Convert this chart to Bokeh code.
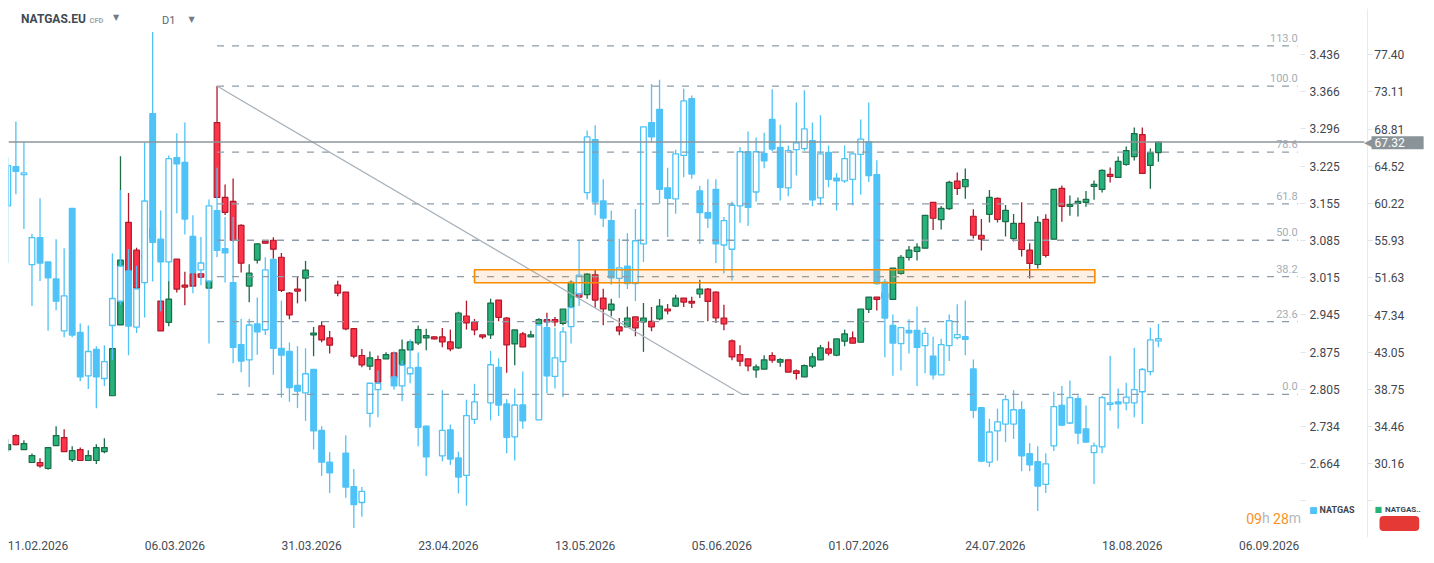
from bokeh.plotting import figure
from bokeh.models import ColumnDataSource, Range1d, LinearAxis, FixedTicker, Label
from bokeh.embed import file_html
from bokeh.resources import INLINE
from bokeh.core.properties import value

# ---------------- data ----------------
# NATGAS.EU (main instrument, right-most axis)
eu_open = [31.80, 33.42, 31.80, 30.31, 30.31, 29.62, 32.26, 33.19, 30.65, 31.80,
           30.54, 30.54, 31.57, 38.02, 46.20, 58.05, 54.83, 54.29, 57.36, 48.96,
           46.50, 53.79, 50.80, 52.11, 52.11, 50.46, 69.57, 60.93, 60.47, 57.71,
           50.69, 53.68, 55.87, 55.98, 54.02, 49.88, 50.34, 51.61, 45.04, 46.08,
           44.70, 50.80, 50.00, 45.77, 42.67, 41.44, 42.20, 42.28, 42.97, 41.63,
           43.32, 44.12, 44.70, 44.82, 44.82, 44.24, 43.55, 47.23, 46.54, 45.05,
           45.05, 49.07, 47.00, 44.01, 45.16, 44.82, 46.31, 46.81, 46.81, 46.39,
           48.27, 49.99, 49.69, 51.99, 49.30, 47.92, 45.97, 45.97, 47.12, 46.54,
           46.62, 46.89, 48.04, 48.38, 49.30, 48.92, 49.77, 50.34, 49.99, 47.00,
           44.35, 42.78, 42.28, 41.02, 41.09, 42.67, 41.90, 42.17, 40.90, 40.21,
           41.44, 42.17, 43.43, 42.70, 44.32, 44.70, 44.20, 48.00, 49.42, 49.30,
           49.15, 52.14, 53.99, 54.68, 55.06, 60.36, 58.36, 59.63, 62.81, 62.16,
           58.75, 56.56, 58.98, 60.82, 58.13, 56.17, 57.94, 54.83, 53.18, 58.40,
           56.10, 61.97, 59.90, 60.24, 60.36, 62.20, 61.85, 63.58, 63.24, 64.73,
           65.65, 68.19, 64.62, 66.11]
eu_high = [32.99, 33.57, 32.88, 31.34, 30.81, 32.03, 34.49, 34.15, 32.19, 32.03,
           31.73, 32.42, 33.11, 43.47, 65.69, 61.43, 55.10, 55.44, 57.75, 48.96,
           51.30, 53.79, 52.34, 52.34, 52.20, 51.38, 73.79, 62.43, 63.12, 57.82,
           53.22, 55.64, 55.90, 56.33, 54.52, 50.00, 51.76, 53.60, 45.97, 46.62,
           45.51, 51.30, 50.00, 45.85, 43.43, 43.13, 42.67, 43.05, 43.09, 44.51,
           44.30, 46.12, 45.77, 44.85, 45.85, 45.66, 47.73, 49.00, 46.89, 45.05,
           49.23, 49.07, 47.12, 45.62, 45.39, 45.54, 46.96, 47.62, 47.12, 48.04,
           51.34, 50.07, 52.18, 52.57, 50.38, 49.23, 47.00, 48.31, 47.12, 48.73,
           48.27, 49.19, 48.61, 49.69, 49.30, 49.46, 51.42, 50.46, 50.07, 48.54,
           44.51, 43.86, 42.28, 41.63, 42.70, 43.05, 42.36, 42.17, 41.05, 41.63,
           42.97, 43.89, 44.28, 44.58, 45.66, 45.43, 48.04, 49.42, 49.42, 50.65,
           52.76, 54.29, 55.33, 55.64, 58.86, 60.36, 59.93, 62.85, 63.81, 64.27,
           59.55, 58.44, 61.78, 60.93, 60.05, 59.01, 60.36, 55.64, 58.75, 58.98,
           61.85, 62.31, 61.16, 60.93, 61.66, 62.89, 64.16, 64.39, 65.65, 66.80,
           68.99, 68.99, 66.57, 67.32]
eu_low = [31.54, 32.30, 31.80, 30.31, 29.69, 29.46, 32.26, 31.57, 30.38, 30.54,
          30.54, 30.15, 31.38, 38.02, 46.20, 52.37, 50.46, 53.14, 56.02, 45.51,
          46.04, 49.96, 48.46, 50.69, 51.60, 50.46, 60.93, 58.90, 55.83, 52.26,
          48.81, 53.30, 55.60, 53.83, 50.00, 46.85, 48.69, 48.92, 42.59, 44.20,
          42.90, 49.50, 45.58, 42.36, 41.32, 40.98, 39.60, 42.28, 39.71, 41.63,
          43.25, 43.89, 43.28, 44.55, 43.63, 43.16, 43.43, 45.66, 45.01, 44.58,
          44.58, 46.62, 40.67, 41.55, 43.66, 44.82, 46.31, 46.04, 46.04, 46.16,
          48.27, 49.34, 49.23, 48.15, 46.16, 47.19, 45.01, 45.97, 44.89, 43.09,
          45.47, 46.73, 47.42, 48.27, 48.27, 48.15, 49.30, 46.62, 46.43, 45.58,
          42.13, 41.44, 40.86, 40.09, 41.09, 41.82, 41.36, 40.75, 39.90, 40.21,
          41.21, 42.17, 42.67, 42.59, 43.74, 44.09, 44.20, 47.58, 47.88, 48.73,
          49.15, 51.99, 53.64, 53.64, 55.06, 57.17, 57.21, 59.47, 61.20, 60.78,
          56.17, 54.79, 58.02, 58.02, 56.40, 55.83, 54.10, 51.57, 52.72, 53.99,
          56.10, 58.13, 58.82, 58.71, 59.86, 60.66, 61.51, 62.66, 63.24, 64.58,
          65.19, 63.70, 61.93, 65.04]
eu_close = [32.38, 32.38, 32.50, 31.11, 29.92, 32.03, 33.42, 31.57, 31.69, 30.54,
            31.11, 32.03, 32.03, 43.47, 53.68, 52.37, 50.46, 53.91, 56.21, 45.51,
            49.19, 50.34, 50.57, 50.69, 51.72, 51.38, 60.93, 59.21, 55.98, 53.33,
            52.18, 55.56, 55.64, 54.95, 50.19, 47.35, 50.11, 52.53, 45.27, 44.47,
            43.86, 49.88, 45.74, 42.59, 41.59, 42.40, 39.60, 42.78, 40.09, 43.32,
            44.24, 45.66, 44.97, 44.58, 44.24, 43.43, 47.58, 46.43, 45.62, 44.82,
            48.73, 47.08, 43.89, 45.62, 43.66, 45.05, 46.81, 46.54, 46.54, 48.04,
            51.11, 49.42, 52.07, 49.07, 48.04, 48.61, 45.51, 47.00, 45.85, 47.00,
            45.97, 48.38, 47.81, 49.30, 48.84, 48.73, 50.34, 48.92, 47.00, 46.31,
            42.51, 42.01, 41.48, 41.36, 42.17, 42.13, 42.20, 40.75, 40.59, 41.51,
            42.51, 43.55, 42.93, 44.58, 45.16, 44.09, 48.04, 49.42, 49.15, 49.88,
            52.76, 54.02, 54.83, 55.18, 58.86, 58.52, 59.67, 62.66, 61.97, 63.00,
            56.56, 56.10, 60.93, 58.40, 59.44, 57.94, 54.91, 53.30, 58.05, 54.22,
            61.85, 59.90, 60.13, 60.47, 60.70, 62.43, 64.04, 63.35, 65.08, 66.34,
            68.30, 63.70, 66.11, 67.32]

# NATGAS (comparison instrument, blue), None = no candle that day
ng_open = [3.151, 3.225, 3.210, 3.040, 3.091, 3.045, 3.013, 2.915, 3.146, 2.912,
           2.830, 2.880, 2.825, 2.925, 2.971, 3.028, 2.922, 3.006, 3.325, 3.088,
           3.045, 3.242, 3.233, 3.093, 3.030, 3.009, 3.142, 3.070, 3.006, 2.889,
           2.860, 2.928, 2.917, 3.050, 2.882, 2.876, 2.812, 2.798, 2.842, 2.727,
           2.667, None, 2.684, 2.621, 2.591, 2.759, 2.804, None, 2.828, 2.811,
           2.834, 2.846, 2.735, None, 2.679, 2.728, 2.675, 2.642, 2.748, None,
           2.779, 2.846, 2.777, 2.715, 2.775, None, 2.747, 2.921, 2.829, 2.857,
           2.923, 2.985, 3.176, 3.276, 3.160, 3.123, 3.014, 3.037, 3.004, 3.079,
           3.308, 3.333, 3.185, 3.164, 3.246, 3.353, 3.179, 3.138, 3.182, 3.077,
           3.069, 3.151, 3.253, 3.177, 3.250, 3.314, 3.261, 3.185, 3.257, 3.259,
           3.274, 3.166, 3.252, 3.203, 3.198, 3.201, 3.248, 3.272, 3.210, 3.007,
           2.925, 2.891, 2.916, 2.916, 2.887, 2.867, 2.832, 2.887, 2.902, 2.904,
           2.843, 2.770, 2.667, 2.726, 2.739, 2.739, 2.766, 2.683, 2.668, 2.625,
           2.698, 2.774, 2.741, 2.787, 2.730, 2.685, 2.696, 2.776, 2.781, 2.779,
           2.779, 2.800, 2.838, 2.896]
ng_high = [3.242, 3.310, 3.272, 3.098, 3.165, 3.045, 3.088, 3.071, 3.146, 2.929,
           2.925, 2.886, 2.888, 3.061, 3.181, 3.069, 3.038, 3.270, 3.479, 3.142,
           3.246, 3.288, 3.308, 3.133, 3.092, 3.163, 3.223, 3.130, 3.130, 2.938,
           2.938, 2.978, 3.054, 3.050, 2.972, 2.893, 2.886, 2.882, 2.842, 2.735,
           2.686, None, 2.718, 2.654, 2.620, 2.816, 2.840, None, 2.875, 2.859,
           2.899, 2.874, 2.736, None, 2.803, 2.738, 2.687, 2.785, 2.815, None,
           2.877, 2.863, 2.786, 2.806, 2.838, None, 2.928, 2.940, 2.921, 2.922,
           2.977, 3.086, 3.293, 3.303, 3.201, 3.142, 3.089, 3.099, 3.145, 3.300,
           3.381, 3.389, 3.223, 3.257, 3.372, 3.359, 3.189, 3.201, 3.201, 3.130,
           3.159, 3.262, 3.291, 3.280, 3.289, 3.371, 3.304, 3.265, 3.346, 3.369,
           3.308, 3.322, 3.265, 3.213, 3.265, 3.250, 3.314, 3.346, 3.237, 3.013,
           2.946, 2.922, 2.937, 2.961, 2.921, 2.904, 2.900, 2.946, 2.965, 2.972,
           2.861, 2.771, 2.749, 2.768, 2.794, 2.803, 2.782, 2.703, 2.697, 2.684,
           2.800, 2.811, 2.821, 2.793, 2.774, 2.704, 2.792, 2.868, 2.806, 2.817,
           2.883, 2.845, 2.921, 2.928]
ng_low = [3.043, 3.173, 3.107, 2.962, 3.009, 2.915, 2.954, 2.903, 2.903, 2.820,
          2.805, 2.769, 2.811, 2.860, 2.964, 2.869, 2.911, 2.940, 3.008, 2.952,
          3.008, 3.137, 3.097, 2.986, 3.001, 2.891, 3.054, 3.006, 2.854, 2.837,
          2.809, 2.870, 2.907, 2.832, 2.789, 2.781, 2.769, 2.745, 2.691, 2.641,
          2.609, None, 2.600, 2.543, 2.564, 2.733, 2.752, None, 2.804, 2.782,
          2.816, 2.697, 2.641, None, 2.669, 2.662, 2.608, 2.585, 2.739, None,
          2.746, 2.754, 2.684, 2.670, 2.730, None, 2.746, 2.797, 2.806, 2.790,
          2.891, 2.962, 3.163, 3.133, 3.111, 3.002, 2.977, 2.994, 2.971, 3.045,
          3.271, 3.155, 3.092, 3.136, 3.205, 3.202, 3.079, 3.109, 3.043, 3.023,
          3.010, 3.119, 3.113, 3.159, 3.222, 3.254, 3.161, 3.169, 3.208, 3.255,
          3.150, 3.152, 3.186, 3.142, 3.194, 3.152, 3.172, 3.196, 3.002, 2.865,
          2.830, 2.840, 2.872, 2.811, 2.835, 2.823, 2.832, 2.858, 2.898, 2.869,
          2.750, 2.667, 2.658, 2.670, 2.705, 2.711, 2.650, 2.650, 2.575, 2.609,
          2.688, 2.735, 2.739, 2.701, 2.704, 2.626, 2.684, 2.764, 2.730, 2.765,
          2.752, 2.739, 2.831, 2.884]
ng_close = [3.227, 3.216, 3.213, 3.091, 3.043, 3.015, 2.971, 2.981, 2.907, 2.828,
            2.876, 2.828, 2.857, 2.976, 3.037, 2.924, 2.994, 3.160, 3.082, 3.045,
            3.240, 3.230, 3.126, 3.025, 3.043, 3.151, 3.067, 3.062, 2.884, 2.858,
            2.926, 2.913, 3.030, 2.882, 2.869, 2.808, 2.801, 2.834, 2.726, 2.667,
            2.647, None, 2.620, 2.587, 2.612, 2.816, 2.816, None, 2.811, 2.850,
            2.845, 2.733, 2.677, None, 2.727, 2.673, 2.639, 2.755, 2.781, None,
            2.851, 2.775, 2.714, 2.775, 2.745, None, 2.926, 2.830, 2.864, 2.913,
            2.959, 3.020, 3.281, 3.158, 3.128, 3.015, 3.034, 3.004, 3.085, 3.300,
            3.281, 3.182, 3.165, 3.249, 3.349, 3.211, 3.138, 3.128, 3.079, 3.123,
            3.152, 3.253, 3.148, 3.253, 3.236, 3.258, 3.186, 3.255, 3.270, 3.296,
            3.162, 3.249, 3.201, 3.198, 3.240, 3.249, 3.277, 3.208, 3.004, 2.939,
            2.892, 2.921, 2.911, 2.884, 2.910, 2.832, 2.889, 2.934, 2.908, 2.899,
            2.765, 2.669, 2.724, 2.743, 2.785, 2.766, 2.679, 2.662, 2.622, 2.664,
            2.772, 2.737, 2.789, 2.722, 2.705, 2.698, 2.789, 2.779, 2.777, 2.790,
            2.804, 2.842, 2.898, 2.900]

# axis tick labels
x_tick_index = [0, 17, 34, 51, 68, 85, 102, 119, 136, 153]
x_tick_labels = ["11.02.2026", "06.03.2026", "31.03.2026", "23.04.2026", "13.05.2026",
                 "05.06.2026", "01.07.2026", "24.07.2026", "18.08.2026", "06.09.2026"]
ng_tick_labels = ["3.436", "3.366", "3.296", "3.225", "3.155", "3.085", "3.015",
                  "2.945", "2.875", "2.805", "2.734", "2.664", ""]
ng_tick_values = [3.436, 3.366, 3.296, 3.225, 3.155, 3.085, 3.015,
                  2.945, 2.875, 2.805, 2.734, 2.664, 2.594]
eu_tick_labels = ["77.40", "73.11", "68.81", "64.52", "60.22", "55.93", "51.63",
                  "47.34", "43.05", "38.75", "34.46", "30.16", ""]
eu_tick_values = [77.40, 73.11, 68.81, 64.52, 60.22, 55.93, 51.63,
                  47.34, 43.05, 38.75, 34.46, 30.16, 25.87]

# drawings
fib_levels = [0.0, 23.6, 38.2, 50.0, 61.8, 78.6, 100.0, 113.0]
fib_anchor = 26                  # candle of the 100% level (its high)
fib_low = 38.17                  # 0% level
trend_end_index = 91.3           # trend line from the fib high down to the 0% level
zone_start, zone_end = 58.0, 135.1
zone_low, zone_high = 51.07, 52.57
last_price = eu_close[-1]

# ---------------- style / layout ----------------
BLUE = "#4fc3f7"
RED_FILL, RED_EDGE = "#ff3348", "#b0182b"
GREEN_FILL, GREEN_EDGE = "#26b27a", "#1a6b46"
FONT = "Roboto"
FRAME_L, FRAME_B = 8, 537          # page pixel position of the frame's left / bottom
FRAME_W, FRAME_H = 1418, 529
X_LO, X_HI = 0.083, 176.32
NG_LO, NG_HI = 2.52489, 3.52339
EU_LO, EU_HI = 21.648, 82.748
EU_PER_PX = (EU_HI - EU_LO) / FRAME_H
NG_AXIS_X = 160.66                 # blue price scale position
EU_AXIS_X = 168.95                 # NATGAS.EU price scale position
FIB_END = 160.3
PRICE_LINE_END = 168.6

p = figure(frame_width=FRAME_W, frame_height=FRAME_H,
           x_range=Range1d(X_LO, X_HI), y_range=Range1d(NG_LO, NG_HI),
           output_backend="svg", toolbar_location=None, y_axis_location=None,
           min_border_left=FRAME_L, min_border_top=8, min_border_right=0, min_border_bottom=18,
           background_fill_color="white", border_fill_color="white")
p.outline_line_color = None
p.grid.grid_line_color = None
p.extra_y_ranges = {"eu": Range1d(EU_LO, EU_HI)}

# x axis
xa = p.xaxis[0]
xa.ticker = FixedTicker(ticks=[i + 3.75 for i in x_tick_index])
xa.major_label_overrides = {i + 3.75: lab for i, lab in zip(x_tick_index, x_tick_labels)}
xa.axis_line_color = None
xa.major_tick_line_color = None
xa.minor_tick_line_color = None
xa.major_tick_out = 0
xa.minor_tick_out = 0
xa.major_label_standoff = 3
xa.major_label_text_font = FONT
xa.major_label_text_font_size = "12px"
xa.major_label_text_color = "#454d55"


def price_axis(ticks, labels, loc, standoff, line_color, **kw):
    ax = LinearAxis(ticker=FixedTicker(ticks=ticks),
                    major_label_overrides=dict(zip(ticks, labels)),
                    fixed_location=loc, **kw)
    ax.axis_line_color = line_color
    ax.major_tick_line_color = "#e2e5e8"
    ax.major_tick_out = 5
    ax.major_tick_in = 0
    ax.minor_tick_line_color = None
    ax.major_label_standoff = standoff
    ax.major_label_text_font = FONT
    ax.major_label_text_font_size = "12px"
    ax.major_label_text_color = "#3f464e"
    p.add_layout(ax, "right")


price_axis(ng_tick_values, ng_tick_labels, NG_AXIS_X, 4, None)
price_axis(eu_tick_values, eu_tick_labels, EU_AXIS_X, 2, "#e8ebee", y_range_name="eu")

# ---------------- NATGAS.EU candles ----------------
eu_x = list(range(len(eu_open)))
eu_up = [c >= o for o, c in zip(eu_open, eu_close)]
eu_src = ColumnDataSource(dict(
    x=eu_x, high=eu_high, low=eu_low,
    top=[max(o, c) for o, c in zip(eu_open, eu_close)],
    bottom=[min(o, c) for o, c in zip(eu_open, eu_close)],
    fill=[GREEN_FILL if u else RED_FILL for u in eu_up],
    edge=[GREEN_EDGE if u else RED_EDGE for u in eu_up],
))
p.segment(x0="x", y0="high", x1="x", y1="low", source=eu_src, y_range_name="eu",
          line_color="edge", line_width=1.3)
p.vbar(x="x", width=0.7, top="top", bottom="bottom", source=eu_src, y_range_name="eu",
       fill_color="fill", line_color="edge", line_width=1.2)

# ---------------- NATGAS candles ----------------
ng_x = [i for i, o in enumerate(ng_open) if o is not None]
ng_src = ColumnDataSource(dict(
    x=ng_x,
    high=[ng_high[i] for i in ng_x], low=[ng_low[i] for i in ng_x],
    top=[max(ng_open[i], ng_close[i]) for i in ng_x],
    bottom=[min(ng_open[i], ng_close[i]) for i in ng_x],
    fill=["white" if ng_close[i] >= ng_open[i] else BLUE for i in ng_x],
))
p.segment(x0="x", y0="high", x1="x", y1="low", source=ng_src,
          line_color=BLUE, line_width=1.3)
p.vbar(x="x", width=0.7, top="top", bottom="bottom", source=ng_src,
       fill_color="fill", line_color=BLUE, line_width=1.3)

# ---------------- drawings ----------------
fib_high = eu_high[fib_anchor]
fib_vals = [fib_low + (fib_high - fib_low) * lv / 100.0 for lv in fib_levels]
p.segment(x0=[fib_anchor] * len(fib_vals), x1=[FIB_END] * len(fib_vals),
          y0=fib_vals, y1=fib_vals, y_range_name="eu",
          line_color="#8d9ca8", line_width=1.3, line_dash="7 8")
p.text(x=[FIB_END] * len(fib_vals), y=[v + 8 * EU_PER_PX for v in fib_vals],
       text=[f"{lv:.1f}" for lv in fib_levels],
       y_range_name="eu", text_align="right", text_baseline="middle",
       text_font=value(FONT), text_font_size="11px", text_color="#a3adb6")

p.segment(x0=[fib_anchor], y0=[fib_high], x1=[trend_end_index], y1=[fib_low],
          y_range_name="eu", line_color="#a8b3bc", line_width=1.3)

p.quad(left=[zone_start], right=[zone_end], bottom=[zone_low], top=[zone_high],
       y_range_name="eu", fill_color="#f5821f", fill_alpha=0.12,
       line_color="#fb8c00", line_width=1.6)

# last price line
p.segment(x0=[X_LO], x1=[PRICE_LINE_END], y0=[last_price], y1=[last_price],
          y_range_name="eu", line_color="#8c959a", line_width=1.5)


def label(px, py, text, size, color, font=FONT, style="normal", align="left", **kw):
    p.add_layout(Label(x=px - FRAME_L, y=FRAME_B - py, x_units="screen", y_units="screen",
                       text=text, text_font=font, text_font_size=size, text_color=color,
                       text_font_style=style, text_align=align, text_baseline="middle", **kw))


# price tag on the NATGAS.EU axis (box anchored at its left edge)
label(1372, 142.3, "\u25c0", "11px", "#8a9398", font="DejaVu Sans", align="right")
label(1371, 142.3, f"{last_price:.2f}", "12px", "white",
      background_fill_color="#8a9398", padding=dict(left=3, right=19, top=2, bottom=2))

# header
label(20.5, 18.7, "NATGAS.EU", "12px", "#3f4a55", style="bold")
label(89, 19.5, "CFD", "7.5px", "#a0a8ae", style="bold")
label(112.5, 17, "\u25bc", "8px", "#737c85", font="DejaVu Sans")
label(161.5, 20.3, "D1", "11px", "#5b6670")
label(188, 18.5, "\u25bc", "8px", "#737c85", font="DejaVu Sans")

# countdown
label(1245.7, 517.7, "09", "14px", "#f7931e")
label(1261.4, 517.7, "h", "14px", "#b3b8bd")
label(1272.6, 517.7, "28", "14px", "#f7931e")
label(1288.3, 517.7, "m", "14px", "#b3b8bd")

# legend
label(1308.5, 509, "\u25a0", "9px", BLUE, font="DejaVu Sans")
label(1319, 509.3, "NATGAS", "9px", "#3c4650", style="bold")
label(1374, 509, "\u25a0", "8px", "#26b27a", font="DejaVu Sans")
label(1384.5, 509.3, "NATGAS..", "8px", "#3c4650", style="bold")
label(1379, 523, " ", "11px", "#e53935", background_fill_color="#e53935",
      border_radius=4, padding=dict(left=18, right=19, top=1, bottom=1))

open("out.html", "w").write(file_html(p, INLINE))
